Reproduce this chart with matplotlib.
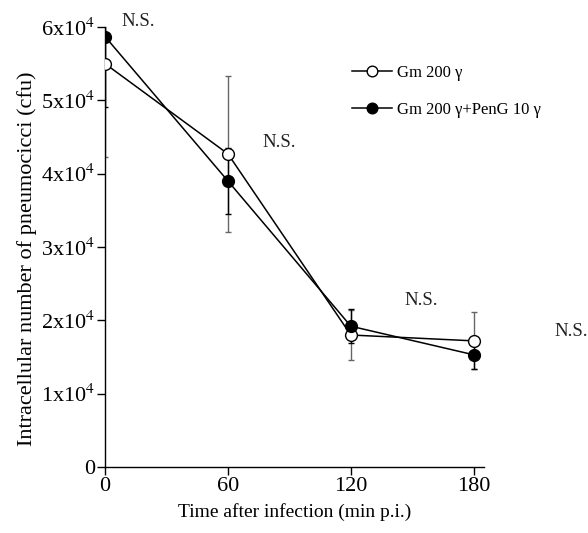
import matplotlib.pyplot as plt

plt.rcParams['font.family'] = ['Liberation Serif', 'DejaVu Serif']
plt.rcParams['mathtext.fontset'] = 'stix'

# data
times = [0, 60, 120, 180]
gm_mean = [55000, 42700, 18000, 17200]
gm_err = [12700, 10600, 3400, 3900]
gmpen_mean = [58700, 39000, 19200, 15300]
gmpen_err = [9600, 4500, 2300, 1900]
ns_labels = ['N.S.', 'N.S.', 'N.S.', 'N.S.']
yticks = [0, 10000, 20000, 30000, 40000, 50000, 60000]
ytick_labels = ['0'] + [f'{n}x10$^{{4}}$' for n in range(1, 7)]

fig = plt.figure(figsize=(5.88, 5.33), dpi=100)
ax = fig.add_axes([105 / 588, 66 / 533, 379 / 588, 440 / 533])

ax.errorbar(times, gm_mean, yerr=gm_err, fmt='none', ecolor='#666666',
            elinewidth=1, capsize=2.5, capthick=1, zorder=2)
ax.errorbar(times, gmpen_mean, yerr=gmpen_err, fmt='none', ecolor='black',
            elinewidth=1, capsize=2.5, capthick=1, zorder=2)
ax.plot(times, gm_mean, '-o', color='black', lw=1.1, ms=8.5,
        mfc='white', mec='black', mew=1, label='Gm 200 γ', zorder=3)
ax.plot(times, gmpen_mean, '-o', color='black', lw=1.1, ms=8.5,
        mfc='black', mec='black', mew=1, label='Gm 200 γ+PenG 10 γ', zorder=4)

# N.S. labels next to each time point (offsets in pixels)
offsets = [(16, 15), (35, 11), (54, 26), (81, 9)]
for t, a, b, lab, off in zip(times, gm_mean, gmpen_mean, ns_labels, offsets):
    ax.annotate(lab, xy=(t, max(a, b)), xytext=off, textcoords='offset pixels',
                ha='left', va='center', fontsize=13.5, color='#222222',
                annotation_clip=False)

ax.set_xlim(0, 185)
ax.set_ylim(0, 60000)
ax.set_xticks(times)
ax.set_xticklabels([str(t) for t in times], fontsize=16)
ax.set_yticks(yticks)
ax.set_yticklabels(ytick_labels, fontsize=16)
ax.tick_params(direction='out', length=6, width=1, pad=1)

for s in ['top', 'right']:
    ax.spines[s].set_visible(False)
for s in ['left', 'bottom']:
    ax.spines[s].set_linewidth(1)

ax.set_xlabel('Time after infection (min p.i.)', fontsize=14, labelpad=5)
ax.set_ylabel('Intracellular number of pneumocicci (cfu)', fontsize=16, labelpad=3)
ax.yaxis.label.set_y(0.473)

ax.legend(loc='upper left', bbox_to_anchor=(337 / 588, 1 - 50 / 533),
          bbox_transform=fig.transFigure, frameon=False, fontsize=12,
          handlelength=2.4, labelspacing=1.25, handletextpad=0.3, markerscale=0.9)

fig.savefig('out.png', dpi=100)
